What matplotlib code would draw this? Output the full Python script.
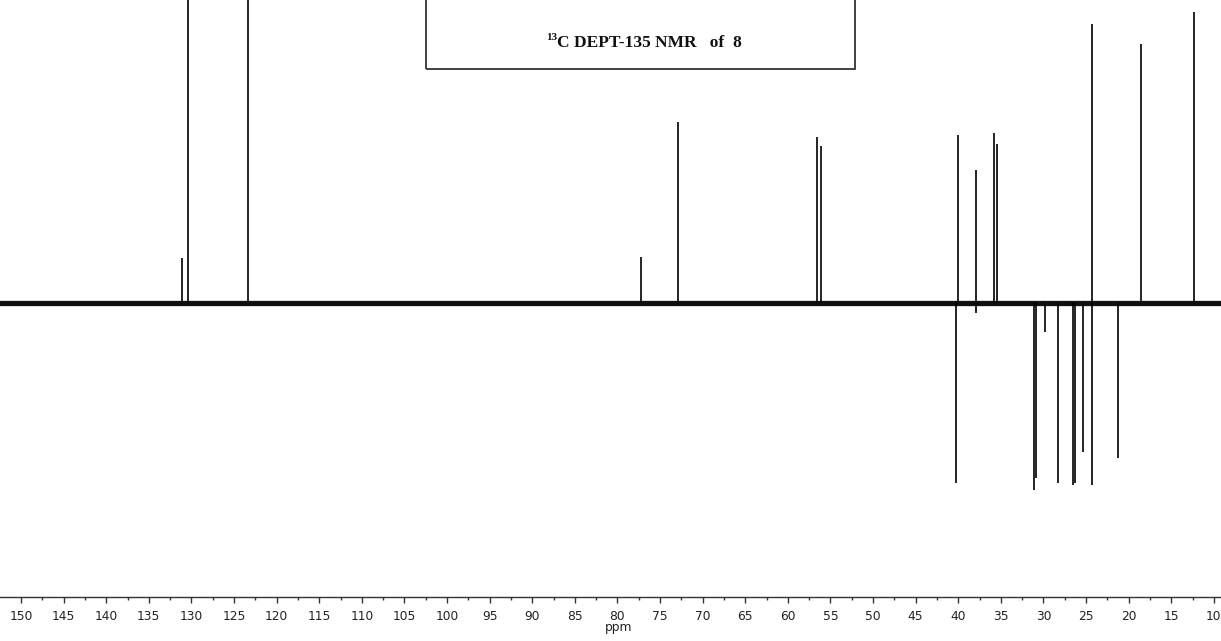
import matplotlib
matplotlib.use("Agg")
import matplotlib.pyplot as plt
from matplotlib.patches import Rectangle
from matplotlib.ticker import MultipleLocator

# ── DATOS (ppm, intensidad relativa a la línea base) ──────────
POS_PPM = [131.07, 130.36, 123.3, 77.2, 72.85, 56.6, 56.07,
           40.06, 37.9, 35.8, 35.45, 24.26, 18.5, 12.3]
POS_INT = [45, 400, 400, 46, 181, 166, 157,
           168, 133, 170, 159, 279, 259, 291]

NEG_PPM = [40.2, 37.9, 31.05, 30.85, 29.8, 28.3, 26.55, 26.3, 25.3, 24.35, 21.3]
NEG_INT = [-180, -10, -187, -175, -29, -180, -182, -180, -149, -182, -155]

TICKS = list(range(150, 5, -5))
TITLE = "C DEPT-135 NMR   of  8"
TITLE_SUP = "13"

W, H = 1221, 641
AX_BOTTOM_PX = 597   # posición del eje x (px desde arriba)
BASE_PX = 303        # línea base del espectro

fig = plt.figure(figsize=(W / 100, H / 100), dpi=100)
ax = fig.add_axes([0, (H - AX_BOTTOM_PX) / H, 1, AX_BOTTOM_PX / H])
ax.set_facecolor("white")

# espectro
ax.axhline(0, color="#111111", linewidth=3.8, zorder=2)
ax.vlines(POS_PPM, 0, POS_INT, color="black", linewidth=1.2, zorder=3)
ax.vlines(NEG_PPM, 0, NEG_INT, color="black", linewidth=1.2, zorder=3)

px_per_ppm = 8.52
ax.set_xlim(150 + 21 / px_per_ppm, 150 - (W - 21) / px_per_ppm)
ax.set_ylim(-(AX_BOTTOM_PX - BASE_PX), BASE_PX)

# ejes
for s in ["top", "right", "left"]:
    ax.spines[s].set_visible(False)
ax.spines["bottom"].set_color("#333333")
ax.spines["bottom"].set_linewidth(1.0)
ax.set_yticks([])
ax.set_xticks(TICKS)
ax.xaxis.set_minor_locator(MultipleLocator(2.5))
ax.tick_params(axis="x", which="major", length=4.5, width=1, color="#333333",
               labelsize=8.8, labelcolor="#222222", pad=5)
ax.tick_params(axis="x", which="minor", length=2.2, width=1, color="#333333")
ax.set_xlabel("ppm", fontsize=8.8, color="#222222")
ax.xaxis.set_label_coords(79.8, -0.041, transform=ax.get_xaxis_transform())

# cuadro del título
box = Rectangle((426 / W, (H - 69) / H), (855 - 426) / W, 0.2,
                transform=fig.transFigure, fill=False,
                edgecolor="#333333", linewidth=1.3, zorder=5)
fig.patches.append(box)
fig.text(557 / W, (H - 47) / H, TITLE, fontsize=12.5, fontweight="bold",
         family="Liberation Serif", ha="left", va="baseline", color="#111111")
fig.text(557 / W, (H - 40) / H, TITLE_SUP, fontsize=8, fontweight="bold",
         family="Liberation Serif", ha="right", va="baseline", color="#111111")

fig.savefig("out.png", dpi=100, facecolor="white")
